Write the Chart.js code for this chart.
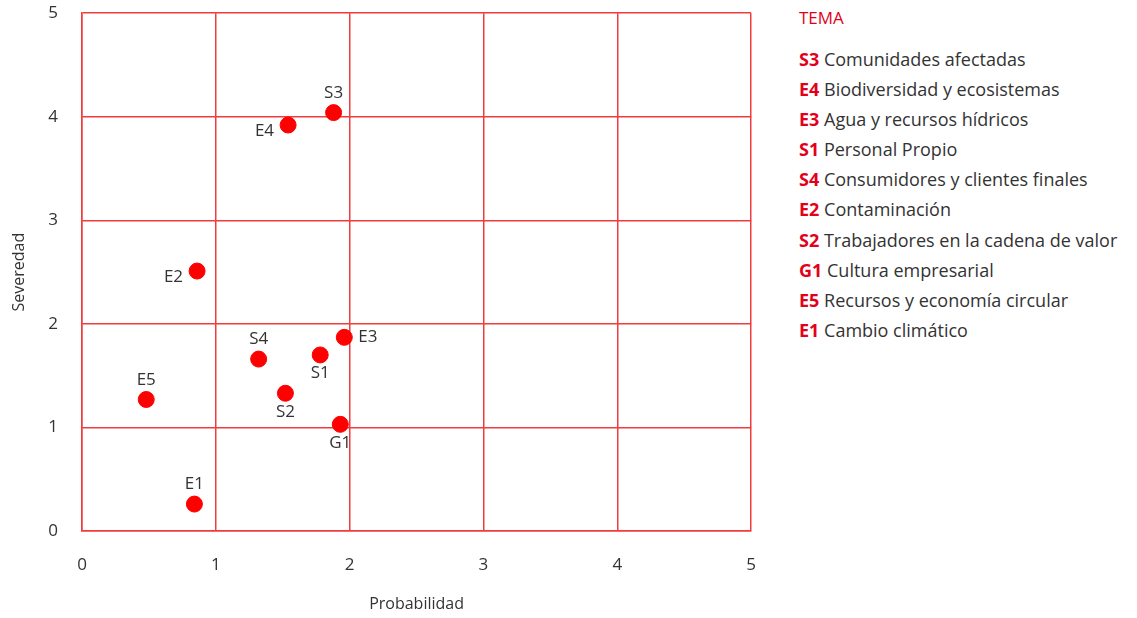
<!DOCTYPE html>
<html>
<head>
<meta charset="utf-8">
<script src="https://cdn.jsdelivr.net/npm/chart.js@4"></script>
<style>
  body { margin: 0; background: #fff; font-family: "Open Sans", sans-serif; overflow: hidden; }
  #wrap { position: relative; width: 1137px; height: 618px; overflow: hidden; }
  #chartBox { position: absolute; left: 0; top: -21px; width: 780px; height: 639px; }
  #legend { position: absolute; left: 799px; top: 6px; color: #333; font-size: 18px; }
  #legend .title { color: #e3001b; font-size: 17px; margin-bottom: 15px; }
  #legend .item { height: 30.1px; line-height: 30px; white-space: nowrap; }
  #legend .code { color: #e3001b; font-weight: bold; }
</style>
</head>
<body>
<div id="wrap">
  <div id="chartBox"><canvas id="myChart"></canvas></div>
  <div id="legend"></div>
</div>
<script>
var codes = ['S3', 'E4', 'E3', 'S1', 'S4', 'E2', 'S2', 'G1', 'E5', 'E1'];
var names = ['Comunidades afectadas', 'Biodiversidad y ecosistemas', 'Agua y recursos hídricos',
  'Personal Propio', 'Consumidores y clientes finales', 'Contaminación',
  'Trabajadores en la cadena de valor', 'Cultura empresarial',
  'Recursos y economía circular', 'Cambio climático'];
var probabilidad = [1.88, 1.54, 1.96, 1.78, 1.32, 0.86, 1.52, 1.93, 0.48, 0.84];
var severidad = [4.04, 3.92, 1.87, 1.70, 1.66, 2.51, 1.33, 1.03, 1.27, 0.26];
var labelSide = ['top', 'left', 'right', 'bottom', 'top', 'left', 'bottom', 'bottom', 'top', 'top'];
var axisTicks = [0, 1, 2, 3, 4, 5];

var red = '#ff0000';
var gridRed = '#f03c3c';

// legend on the right
var html = '<div class="title">TEMA</div>';
for (var i = 0; i < codes.length; i++) {
  html += '<div class="item"><span class="code">' + codes[i] + '</span> ' + names[i] + '</div>';
}
document.getElementById('legend').innerHTML = html;

var points = [];
for (var i = 0; i < codes.length; i++) {
  points.push({ x: probabilidad[i], y: severidad[i] });
}

var pointLabels = {
  id: 'pointLabels',
  afterDatasetsDraw: function(chart) {
    var ctx = chart.ctx;
    var meta = chart.getDatasetMeta(0);
    ctx.save();
    ctx.font = '17px "Open Sans", sans-serif';
    ctx.fillStyle = '#333';
    meta.data.forEach(function(el, i) {
      var x = el.x, y = el.y;
      var side = labelSide[i];
      if (side === 'top') { ctx.textAlign = 'center'; ctx.textBaseline = 'bottom'; y -= 11; }
      if (side === 'bottom') { ctx.textAlign = 'center'; ctx.textBaseline = 'top'; y += 10; }
      if (side === 'left') { ctx.textAlign = 'right'; ctx.textBaseline = 'middle'; x -= 14; y += 6; }
      if (side === 'right') { ctx.textAlign = 'left'; ctx.textBaseline = 'middle'; x += 14; }
      ctx.fillText(codes[i], x, y);
    });
    ctx.restore();
  }
};

var ctx = document.getElementById('myChart').getContext('2d');
var myChart = new Chart(ctx, {
  type: 'scatter',
  data: {
    datasets: [{
      data: points,
      backgroundColor: red,
      borderColor: red,
      pointRadius: 8,
      pointHoverRadius: 8
    }]
  },
  plugins: [pointLabels],
  options: {
    responsive: true,
    maintainAspectRatio: false,
    animation: false,
    layout: { padding: { top: 0, right: 26, left: 6, bottom: 0 } },
    plugins: { legend: { display: false }, tooltip: { enabled: false } },
    scales: {
      x: {
        min: 0, max: 5,
        afterBuildTicks: function(axis) { axis.ticks = axisTicks.map(function(v) { return { value: v }; }); },
        afterFit: function(axis) { axis.height = 87; },
        grid: { color: gridRed, lineWidth: 1.5, drawTicks: false },
        border: { color: gridRed, width: 1.5 },
        ticks: { color: '#333', padding: 24, font: { family: 'Open Sans', size: 17 } },
        title: { display: true, text: 'Probabilidad', color: '#333', padding: { top: 14 }, font: { family: 'Open Sans', size: 16 } }
      },
      y: {
        min: 0, max: 5,
        afterBuildTicks: function(axis) { axis.ticks = axisTicks.map(function(v) { return { value: v }; }); },
        afterFit: function(axis) { axis.width = 76; },
        grid: { color: gridRed, lineWidth: 1.5, drawTicks: false },
        border: { color: gridRed, width: 1.5 },
        ticks: { color: '#333', padding: 24, font: { family: 'Open Sans', size: 17 } },
        title: { display: true, text: 'Severedad', color: '#333', padding: { bottom: 0 }, font: { family: 'Open Sans', size: 16 } }
      }
    }
  }
});
</script>
</body>
</html>
